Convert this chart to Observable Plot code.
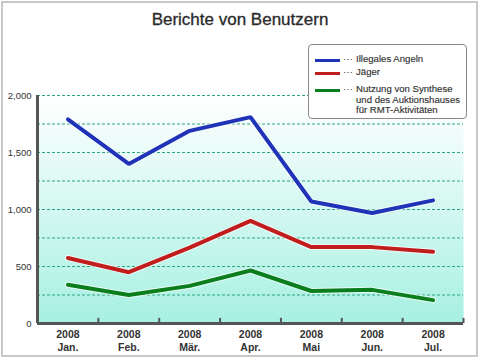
<!DOCTYPE html>
<html>
<head>
<meta charset="utf-8">
<script src="https://cdn.jsdelivr.net/npm/d3@7"></script>
<script src="https://cdn.jsdelivr.net/npm/@observablehq/plot@0.6"></script>
<style>
  html, body { margin: 0; padding: 0; background: #fff; }
  #wrap { position: relative; width: 480px; height: 360px; font-family: "Liberation Sans", Arial, sans-serif; overflow: hidden; }
  #border { position: absolute; left: 1px; top: 1px; width: 473px; height: 352px; border: 2px solid #c8c8c8; box-sizing: content-box; }
  #title { position: absolute; left: 0; top: 0; width: 480px; height: 42px; line-height: 40px; text-align: center; font-size: 17px; color: #2a2a2a; -webkit-text-stroke: 0.3px #2a2a2a; }
  #chart { position: absolute; left: 0; top: 42px; }
  #legend { position: absolute; left: 308px; top: 44px; width: 157px; height: 73px; border: 1px solid #888; border-radius: 4px; background: #fff; font-size: 9.6px; color: #333; }
  .item { position: absolute; left: 6px; display: flex; align-items: flex-start; }
  .sw { width: 25px; height: 3px; margin-top: 5px; }
  .dots { width: 13px; margin-left: 3px; line-height: 10px; }
  .lab { line-height: 10.5px; -webkit-text-stroke: 0.15px #333; }
</style>
</head>
<body>
<div id="wrap">
  <div id="title">Berichte von Benutzern</div>
  <div id="chart"></div>
  <div id="legend"></div>
  <div id="border"></div>
</div>
<script>
const months = ["Jan.", "Feb.", "Mär.", "Apr.", "Mai", "Jun.", "Jul."];
const years = ["2008", "2008", "2008", "2008", "2008", "2008", "2008"];
const seriesNames = ["Illegales Angeln", "Jäger", "Nutzung von Synthese\nund des Auktionshauses\nfür RMT-Aktivitäten"];
const seriesColors = ["#1f33b8", "#c21d1d", "#0a7d1c"];
const illegalesAngeln = [1790, 1400, 1690, 1810, 1070, 970, 1080];
const jaeger = [575, 450, 665, 900, 670, 670, 630];
const rmt = [340, 250, 330, 465, 285, 295, 205];
const yTicks = [0, 500, 1000, 1500, 2000];
const gridValues = [250, 500, 750, 1000, 1250, 1500, 1750, 2000];

const allSeries = [illegalesAngeln, jaeger, rmt];
const data = [];
allSeries.forEach((vals, s) => vals.forEach((v, i) => data.push({i, v, s})));
const bounds = d3.range(0.5, months.length + 0.5, 1);

const plot = Plot.plot({
  width: 480,
  height: 318,
  marginLeft: 37,
  marginRight: 17,
  marginTop: 53,
  marginBottom: 37,
  style: {fontFamily: "'Liberation Sans', Arial, sans-serif", fontSize: "10px", color: "#333", background: "transparent"},
  x: {type: "linear", domain: [-0.5, months.length - 0.5], label: null},
  y: {domain: [0, 2000], label: null},
  marks: [
    Plot.frame({fill: "url(#bgGrad)", stroke: "none"}),
    Plot.frame({fill: "url(#checker)", stroke: "none"}),
    Plot.ruleY(gridValues, {stroke: "#2ea581", strokeDasharray: "3,2", strokeWidth: 1}),
    Plot.line(data, {x: "i", y: "v", z: "s", stroke: "#fff", strokeWidth: 6, strokeOpacity: 0.7, strokeLinejoin: "miter"}),
    Plot.line(data, {x: "i", y: "v", z: "s", stroke: d => seriesColors[d.s], strokeWidth: 4, strokeLinejoin: "miter"}),
    Plot.ruleX(bounds, {y1: 0, y2: 45, stroke: "#555", strokeWidth: 2}),
    Plot.ruleX([-0.5], {stroke: "#555", strokeWidth: 3}),
    Plot.ruleY([0], {stroke: "#555", strokeWidth: 3}),
    Plot.axisY({ticks: yTicks, tickFormat: d3.format(","), tickSize: 0, tickPadding: 6, fontSize: 9.5, label: null}),
    Plot.axisX({ticks: d3.range(months.length), tickFormat: i => years[i] + "\n" + months[i], tickSize: 0, tickPadding: 6, fontWeight: "bold", fontSize: 10.5, lineHeight: 1.2, label: null})
  ]
});

const svg = d3.select(plot);
const defs = svg.insert("defs", ":first-child");
const g = defs.append("linearGradient").attr("id", "bgGrad").attr("x1", 0).attr("y1", 0).attr("x2", 0).attr("y2", 1);
g.append("stop").attr("offset", "0%").attr("stop-color", "#ffffff");
g.append("stop").attr("offset", "45%").attr("stop-color", "#d2f7f0");
g.append("stop").attr("offset", "100%").attr("stop-color", "#98eedd");
const p = defs.append("pattern").attr("id", "checker").attr("width", 4).attr("height", 4).attr("patternUnits", "userSpaceOnUse");
p.append("rect").attr("x", 0).attr("y", 0).attr("width", 2).attr("height", 2).attr("fill", "#ffffff").attr("fill-opacity", 0.28);
p.append("rect").attr("x", 2).attr("y", 2).attr("width", 2).attr("height", 2).attr("fill", "#ffffff").attr("fill-opacity", 0.28);

document.getElementById("chart").appendChild(plot);

const legend = document.getElementById("legend");
const tops = [9, 22, 39];
seriesNames.forEach((name, k) => {
  const item = document.createElement("div");
  item.className = "item";
  item.style.top = tops[k] + "px";
  const sw = document.createElement("div");
  sw.className = "sw";
  sw.style.background = seriesColors[k];
  const dots = document.createElement("div");
  dots.className = "dots";
  dots.textContent = "···";
  const lab = document.createElement("div");
  lab.className = "lab";
  lab.innerHTML = name.split("\n").join("<br>");
  item.appendChild(sw); item.appendChild(dots); item.appendChild(lab);
  legend.appendChild(item);
});
</script>
</body>
</html>
